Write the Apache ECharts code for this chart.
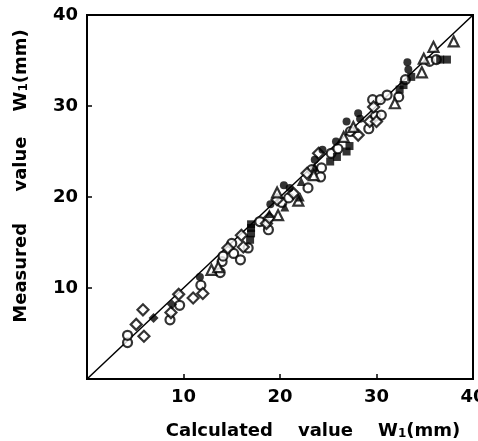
<!DOCTYPE html>
<html>
<head>
<meta charset="utf-8">
<script src="https://cdn.jsdelivr.net/npm/echarts@6/dist/echarts.min.js"></script>
<style>
html, body { margin: 0; padding: 0; background: #fff; }
#chart { width: 478px; height: 441px; }
</style>
</head>
<body>
<div id="chart"></div>
<script>
// tick labels
var xTicks = [10, 20, 30, 40];
var yTicks = [10, 20, 30, 40];

// y = x reference line
var diagonal = [[0, 0], [40, 40]];

// [calculated, measured]
var openCircle = [[4.2, 4.0], [4.2, 4.8], [8.6, 6.5], [9.6, 8.1], [11.8, 10.3], [13.8, 11.7], [14.0, 12.9],
    [14.1, 13.5], [15.0, 14.9], [15.2, 13.8], [15.9, 13.1], [16.7, 14.4], [17.9, 17.3], [18.8, 16.4],
    [20.2, 19.4], [20.9, 19.9], [22.9, 21.0], [23.3, 23.0], [24.3, 23.2], [24.2, 22.2], [25.3, 24.8],
    [26.0, 25.3], [27.3, 27.2], [29.2, 27.5], [29.6, 30.7], [30.4, 30.7], [29.9, 28.9], [30.5, 29.0],
    [31.1, 31.2], [32.3, 31.0], [33.0, 32.9], [35.5, 34.9], [36.2, 35.1]];
var openDiamond = [[5.1, 6.0], [5.8, 7.6], [5.9, 4.7], [8.7, 7.3], [9.5, 9.3], [11.0, 8.9], [12.0, 9.4],
    [14.6, 14.4], [16.0, 15.8], [16.2, 14.5], [18.6, 17.1], [18.9, 17.7], [19.7, 19.7], [21.4, 20.4],
    [22.8, 22.6], [24.0, 24.8], [28.1, 26.8], [29.3, 28.3], [29.7, 29.9], [30.0, 28.3]];
var openTriangle = [[12.9, 12.0], [13.6, 12.3], [19.8, 18.0], [19.7, 20.5], [21.9, 19.6], [23.5, 22.4],
    [26.6, 26.6], [27.6, 27.7], [31.9, 30.3], [34.7, 33.7], [34.9, 35.2], [35.9, 36.5], [38.0, 37.1]];
var filledCircle = [[11.7, 11.2], [19.0, 19.2], [20.4, 21.3], [21.0, 21.0], [23.6, 24.1], [24.4, 25.2],
    [25.8, 26.1], [26.9, 28.3], [28.1, 29.2], [28.3, 28.6], [33.2, 34.8], [33.3, 34.0]];
var filledDiamond = [[6.9, 6.7], [8.8, 8.2]];
var filledTriangle = [[22.1, 20.0], [22.2, 21.7], [18.9, 18.2], [20.5, 18.9], [23.6, 23.3]];
var filledSquare = [[16.9, 15.3], [17.0, 16.0], [17.0, 16.6], [17.0, 17.0], [25.2, 23.9], [25.9, 24.4],
    [26.9, 25.0], [27.2, 25.6], [32.4, 31.8], [32.8, 32.3], [33.6, 33.2], [36.6, 35.1], [37.3, 35.1]];

var font = 'DejaVu Sans';

function openSeries(data, symbol, size) {
    return {
        type: 'scatter', data: data, symbol: symbol, symbolSize: size,
        itemStyle: { color: '#fff', borderColor: '#000', borderWidth: 2.2 },
        z: 3
    };
}

function filledSeries(data, symbol, size) {
    return {
        type: 'scatter', data: data, symbol: symbol, symbolSize: size,
        itemStyle: { color: '#000' },
        z: 4
    };
}

function tickLabel(v, list) {
    return list.indexOf(v) >= 0 ? String(v) : '';
}

var nameRich = {
    s: { fontSize: 12, fontFamily: font, fontWeight: 'bold', color: '#000', verticalAlign: 'bottom' }
};

var chart = echarts.init(document.getElementById('chart'));
chart.setOption({
    animation: false,
    backgroundColor: '#fff',
    grid: {
        left: 87, right: 5, top: 15, bottom: 62,
        outerBoundsMode: 'none',
        show: true, borderColor: '#000', borderWidth: 2
    },
    xAxis: {
        type: 'value', min: 0, max: 40, interval: 10,
        splitLine: { show: false },
        axisLine: { lineStyle: { color: '#000', width: 2 } },
        axisTick: { inside: true, length: 5, lineStyle: { color: '#000', width: 1.5 } },
        axisLabel: {
            showMinLabel: false, margin: 9, color: '#000', fontSize: 18, fontWeight: 'bold', fontFamily: font,
            formatter: function (v) { return tickLabel(v, xTicks); }
        },
        name: 'Calculated    value    W{s|1}(mm)',
        nameLocation: 'middle',
        nameGap: 43,
        nameTextStyle: {
            color: '#000', fontSize: 18, fontWeight: 'bold', fontFamily: font,
            padding: [0, 0, 0, 66], rich: nameRich
        }
    },
    yAxis: {
        type: 'value', min: 0, max: 40, interval: 10,
        splitLine: { show: false },
        axisLine: { lineStyle: { color: '#000', width: 2 } },
        axisTick: { inside: true, length: 5, lineStyle: { color: '#000', width: 1.5 } },
        axisLabel: {
            showMinLabel: false, margin: 9, color: '#000', fontSize: 18, fontWeight: 'bold', fontFamily: font,
            formatter: function (v) { return tickLabel(v, yTicks); }
        },
        name: 'Measured     value    W{s|1}(mm)',
        nameLocation: 'middle',
        nameGap: 57,
        nameTextStyle: {
            color: '#000', fontSize: 18, fontWeight: 'bold', fontFamily: font,
            padding: [0, 0, 0, 42], rich: nameRich
        }
    },
    series: [
        {
            type: 'line', data: diagonal, symbol: 'none',
            lineStyle: { color: '#000', width: 1.5 }, z: 2
        },
        openSeries(openCircle, 'circle', 9),
        openSeries(openDiamond, 'diamond', 11),
        openSeries(openTriangle, 'triangle', 10),
        filledSeries(filledCircle, 'circle', 8),
        filledSeries(filledDiamond, 'diamond', 10),
        filledSeries(filledTriangle, 'triangle', 9),
        filledSeries(filledSquare, 'rect', 8)
    ]
});
</script>
</body>
</html>
